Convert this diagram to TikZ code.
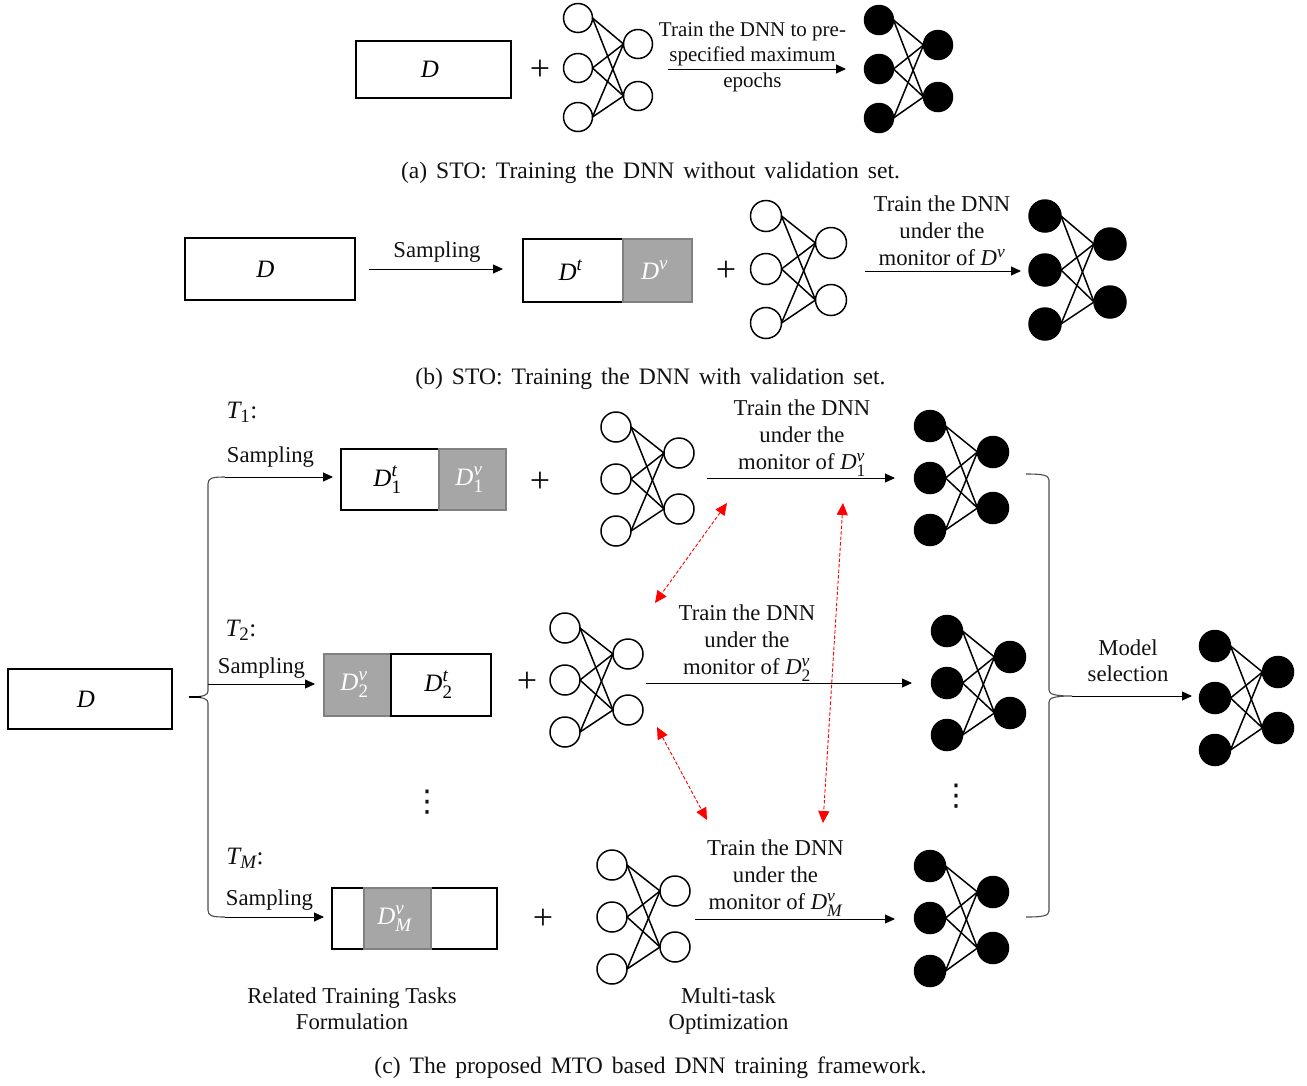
\documentclass[tikz,border=0pt]{standalone}
\usepackage{amsmath}
\usepackage{fontspec}
\setmainfont{Liberation Serif}
\newfontfamily\dvfont{DejaVu Sans}
\usetikzlibrary{arrows.meta}
\DeclareMathSizes{22.7}{22.7}{17.5}{14}
\DeclareMathSizes{25}{25}{19}{15}
\DeclareMathSizes{27}{27}{20}{15}
\definecolor{ink}{HTML}{111111}
\definecolor{setgray}{HTML}{A6A6A6}
\definecolor{setedge}{HTML}{808080}
\definecolor{bracegray}{HTML}{4D4D4D}
\newcommand\DD[1]{\textit{D}#1}
\newcommand\nnet[9]{%
  \node[#2] (#1a) at (#3,#4) {};
  \node[#2] (#1b) at (#3,#5) {};
  \node[#2] (#1c) at (#3,#6) {};
  \node[#2] (#1x) at (#7,#8) {};
  \node[#2] (#1y) at (#7,#9) {};
  \foreach \l in {a,b,c}{\foreach \r in {x,y}{
    \draw[edgeline] (#1\l.east) -- (#1\r.west);
  }}%
}
\tikzset{
  neuronw/.style={circle,draw=black,line width=1.5pt,fill=white,inner sep=0pt,outer sep=0pt,minimum size=29pt},
  neuronb/.style={neuronw,fill=black},
  edgeline/.style={draw=black,line width=1.5pt},
  setbox/.style={rectangle,draw=black,line width=1.8pt,fill=white,inner sep=0pt,outer sep=0pt,font=\fontsize{25}{28}\selectfont},
  valbox/.style={setbox,draw=setedge,fill=setgray,text=white},
  label/.style={inner sep=0pt,align=center,text=ink,font=\fontsize{22.7}{26}\selectfont},
  monitor/.style={label,font=\fontsize{22.7}{27}\selectfont},
  tlabel/.style={label,font=\fontsize{25}{28}\selectfont},
  plus/.style={label,font=\fontsize{36}{36}\selectfont},
  caption/.style={inner sep=0pt,text=ink,font=\fontsize{23.6}{26}\selectfont},
  flow/.style={draw=black,line width=1pt,-{Triangle[length=10pt,width=9pt]}},
  bracep/.style={draw=bracegray,line width=1.1pt},
  braceend/.style={draw=black,line width=1.5pt},
  vdotslabel/.style={label,font=\dvfont\fontsize{30}{30}\selectfont},
  coupling/.style={draw=red,line width=0.9pt,dash pattern=on 3.5pt off 2pt,{Triangle[length=12pt,width=11pt]}-{Triangle[length=12pt,width=11pt]}}
}
\begin{document}
\begin{tikzpicture}[x=1pt,y=-1pt]
\useasboundingbox (0,0) rectangle (1307,1085);
% (a)
\node[setbox,minimum width=155pt,minimum height=57pt] (aD) at (433.5,69.5) {\DD{}\kern7pt};
\node[plus] (aplus) at (540,70) {+};
\nnet{aw}{neuronw}{578}{18}{68}{117}{638}{44}{96}
\nnet{ab}{neuronb}{879}{20}{69}{118}{938}{45}{97}
\node[label,font=\fontsize{21}{25.5}\selectfont] (atext) at (752.5,56.5) {Train the DNN to pre-\\specified maximum\\epochs};
\coordinate (as) at (668,69); \coordinate (ae) at (846,69);
\draw[flow] (as) -- (ae);
\node[caption] (capa) at (650.5,172.5) {\spaceskip=9pt (a) STO: Training the DNN without validation set.};
% (b)
\node[setbox,minimum width=170pt,minimum height=62pt] (bD) at (270,269) {\DD{}\kern9pt};
\node[label] (bsamp) at (437,252) {Sampling};
\coordinate (bs1) at (369,269); \coordinate (be1) at (503,269);
\draw[flow] (bs1) -- (be1);
\node[setbox,minimum width=100pt,minimum height=63pt] (bDt) at (573,270.5) {$\DD{}^{\textit{t}}$\kern5pt};
\node[valbox,minimum width=69pt,minimum height=63pt] (bDv) at (657.5,270.5) {\kern-6pt$\DD{}^{\textit{v}}$};
\node[plus] (bplus) at (726,271) {+};
\nnet{bw}{neuronw,minimum size=31pt}{766}{216}{269}{323}{831}{243}{300}
\nnet{bb}{neuronb,minimum size=32pt}{1045}{216}{270}{324}{1110}{244}{302}
\node[monitor] (btext) at (942,230.5) {Train the DNN\\under the\\monitor of $\DD{}^{\textit{v}}$};
\coordinate (bs2) at (865,271); \coordinate (be2) at (1021,271);
\draw[flow] (bs2) -- (be2);
\node[caption] (capb) at (650.5,378.5) {\spaceskip=9pt (b) STO: Training the DNN with validation set.};
% (c) left
\node[setbox,minimum width=164pt,minimum height=60pt] (cD) at (90,699) {\DD{}\kern8pt};
\coordinate (bl1) at (225,477); \coordinate (blx) at (208,484); \coordinate (bltip) at (189,697);
\coordinate (bly) at (208,910); \coordinate (bl2) at (225,917);
\draw[bracep] (bl1) .. controls (212,477) and (208,478) .. (blx) -- (208,691)
  .. controls (208,695) and (204,697) .. (bltip)
  .. controls (204,697) and (208,699) .. (208,703) -- (bly)
  .. controls (208,916) and (212,917) .. (bl2);
\coordinate (bltipend) at (201,697);
\draw[braceend] (bltip) -- (bltipend);
\coordinate (br1) at (1026,474); \coordinate (brx) at (1049,480); \coordinate (brtip) at (1072,696);
\coordinate (bry) at (1049,911); \coordinate (br2) at (1026,917);
\draw[bracep] (br1) .. controls (1042,474) and (1049,475) .. (brx) -- (1049,690)
  .. controls (1049,694) and (1054,696) .. (brtip)
  .. controls (1054,696) and (1049,698) .. (1049,702) -- (bry)
  .. controls (1049,916) and (1042,917) .. (br2);
% rows
\node[tlabel] (t1) at (242,412) {$\textit{T}_{\text{1}}$:};
\node[label] (s1) at (270.5,457) {Sampling};
\coordinate (c1s) at (225,477); \coordinate (c1e) at (333,477);
\draw[flow] (c1s) -- (c1e);
\node[setbox,minimum width=98pt,minimum height=61pt] (c1t) at (390,479.5) {$\DD{}^{\textit{t}}_{\text{1}}$\kern5pt};
\node[valbox,minimum width=67pt,minimum height=61pt] (c1v) at (472.5,479.5) {\kern-6pt$\DD{}^{\textit{v}}_{\text{1}}$};
\node[plus] (p1) at (540,482) {+};
\nnet{c1w}{neuronw,minimum size=30pt}{616}{427}{479}{531}{679}{453}{509}
\nnet{c1b}{neuronb,minimum size=31pt}{930}{426}{478}{530}{993}{452}{508}
\node[monitor] (c1text) at (802,438) {Train the DNN\\under the\\monitor of $\DD{}^{\textit{v}}_{\text{1}}$};
\coordinate (c1a) at (707,478); \coordinate (c1f) at (895,478);
\draw[flow] (c1a) -- (c1f);

\node[tlabel] (t2) at (241,630) {$\textit{T}_{\text{2}}$:};
\node[label] (s2) at (261.5,668) {Sampling};
\coordinate (c2s) at (208,684); \coordinate (c2e) at (315,684);
\draw[flow] (c2s) -- (c2e);
\node[valbox,minimum width=67pt,minimum height=62pt] (c2v) at (357.5,685) {\kern-6pt$\DD{}^{\textit{v}}_{\text{2}}$};
\node[setbox,minimum width=100pt,minimum height=62pt] (c2t) at (441,685) {$\DD{}^{\textit{t}}_{\text{2}}$\kern5pt};
\node[plus] (p2) at (527,682) {+};
\nnet{c2w}{neuronw,minimum size=30pt}{565}{628}{680}{732}{628}{654}{710}
\nnet{c2b}{neuronb,minimum size=31pt}{947}{631}{683}{735}{1010}{657}{713}
\node[monitor] (c2text) at (747,643) {Train the DNN\\under the\\monitor of $\DD{}^{\textit{v}}_{\text{2}}$};
\coordinate (c2a) at (646,683); \coordinate (c2f) at (912,683);
\draw[flow] (c2a) -- (c2f);

\node[vdotslabel] (d1) at (427,802) {⋮};
\node[vdotslabel] (d2) at (956,796) {⋮};

\node[tlabel] (t3) at (245,858) {$\textit{T}_{\textit{M}}$:};
\node[label] (s3) at (269.5,900) {Sampling};
\coordinate (c3s) at (225,917); \coordinate (c3e) at (324,917);
\draw[flow] (c3s) -- (c3e);
\node[setbox,minimum width=165pt,minimum height=61pt] (c3t) at (414.5,918.5) {};
\node[valbox,minimum width=67pt,minimum height=61pt] (c3v) at (397.5,918.5) {\kern-6pt$\DD{}^{\textit{v}}_{\textit{M}}$};
\node[plus] (p3) at (543,919) {+};
\nnet{c3w}{neuronw,minimum size=30pt}{612}{865}{917}{969}{675}{891}{947}
\nnet{c3b}{neuronb,minimum size=31pt}{930}{866}{918}{971}{993}{892}{948}
\node[monitor] (c3text) at (775.5,878) {Train the DNN\\under the\\monitor of $\DD{}^{\textit{v}}_{\textit{M}}$};
\coordinate (c3a) at (695,919); \coordinate (c3f) at (895,919);
\draw[flow] (c3a) -- (c3f);

% model selection
\node[label] (ms) at (1128,661) {Model\\selection};
\coordinate (msf) at (1192,696);
\draw[flow] (brtip) -- (msf);
\nnet{fb}{neuronb,minimum size=31pt}{1215}{646}{698}{750}{1278}{672}{728}
% red couplings
\coordinate (r1a) at (727,503); \coordinate (r1b) at (655,603);
\coordinate (r2a) at (843,503); \coordinate (r2b) at (823,823);
\coordinate (r3a) at (657,727); \coordinate (r3b) at (707,820);
\draw[coupling] (r1a) -- (r1b);
\draw[coupling] (r2a) -- (r2b);
\draw[coupling] (r3a) -- (r3b);
% bottom labels
\node[label] (rel) at (352,1009) {Related Training Tasks\\Formulation};
\node[label] (mto) at (728.5,1011) {Multi-task\\Optimization};
\node[caption] (capc) at (650.5,1067.5) {\spaceskip=9pt (c) The proposed MTO based DNN training framework.};
\end{tikzpicture}
\end{document}
